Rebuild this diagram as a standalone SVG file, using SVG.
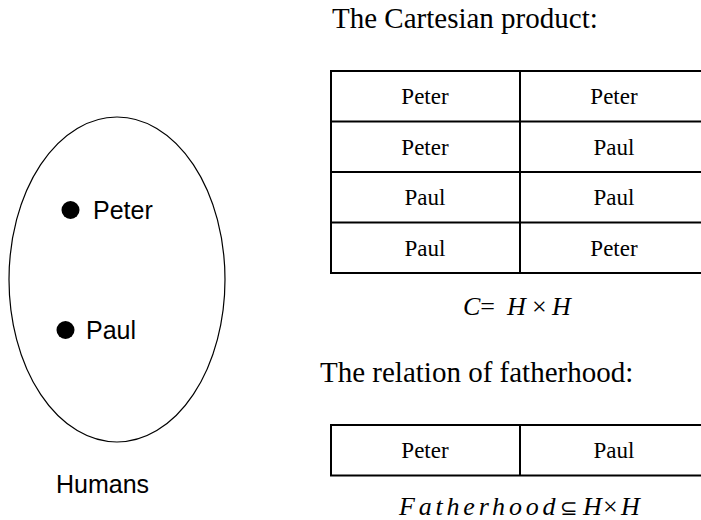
<svg xmlns="http://www.w3.org/2000/svg" width="701" height="520" viewBox="0 0 701 520">
  <style>
    .sans { font-family: "Liberation Sans", Arial, sans-serif; font-size: 25px; fill: #000; }
    .serif { font-family: "Liberation Serif", "Times New Roman", serif; fill: #000; }
    .head { font-size: 29px; }
    .cell { font-size: 23px; text-anchor: middle; }
    .math { font-size: 26px; font-style: italic; }
    .grid { fill: none; stroke: #000; stroke-width: 2; }
  </style>
  <rect width="701" height="520" fill="#fff"/>

  <!-- the set of humans -->
  <g id="humans">
    <ellipse cx="117" cy="279.5" rx="108" ry="162.5" fill="none" stroke="#000" stroke-width="1.2"/>
    <text class="sans" x="102.5" y="493" text-anchor="middle">Humans</text>
  </g>
  <g id="peter">
    <circle cx="70.5" cy="210" r="9"/>
    <text class="sans" x="93" y="218.5">Peter</text>
  </g>
  <g id="paul">
    <circle cx="65.5" cy="330" r="9"/>
    <text class="sans" x="86" y="338.5">Paul</text>
  </g>

  <!-- Cartesian product H x H -->
  <g id="cartesian">
    <text class="serif head" x="332" y="28">The Cartesian product:</text>
    <g class="grid">
      <rect x="331" y="71" width="378" height="202"/>
      <line x1="520" y1="71" x2="520" y2="273"/>
      <line x1="331" y1="121.5" x2="709" y2="121.5"/>
      <line x1="331" y1="172" x2="709" y2="172"/>
      <line x1="331" y1="222.5" x2="709" y2="222.5"/>
    </g>
    <g class="serif cell">
      <text x="425" y="104">Peter</text><text x="614" y="104">Peter</text>
      <text x="425" y="154.5">Peter</text><text x="614" y="154.5">Paul</text>
      <text x="425" y="205">Paul</text><text x="614" y="205">Paul</text>
      <text x="425" y="255.5">Paul</text><text x="614" y="255.5">Peter</text>
    </g>
    <text class="serif math" y="315"><tspan x="463">C</tspan><tspan font-style="normal">=</tspan><tspan x="507">H</tspan><tspan x="532" font-style="normal">×</tspan><tspan x="552">H</tspan></text>
  </g>

  <!-- fatherhood relation -->
  <g id="fatherhood">
    <text class="serif head" x="320" y="382">The relation of fatherhood:</text>
    <g class="grid">
      <rect x="331" y="425" width="378" height="50.5"/>
      <line x1="520" y1="425" x2="520" y2="475.5"/>
    </g>
    <g class="serif cell">
      <text x="425" y="458">Peter</text><text x="614" y="458">Paul</text>
    </g>
    <text class="serif math" y="515"><tspan x="399" letter-spacing="3.8">Fatherhood</tspan><tspan x="560" font-style="normal" font-size="21px">⊆</tspan><tspan x="583">H</tspan><tspan x="603" font-style="normal">×</tspan><tspan x="621">H</tspan></text>
  </g>
</svg>
